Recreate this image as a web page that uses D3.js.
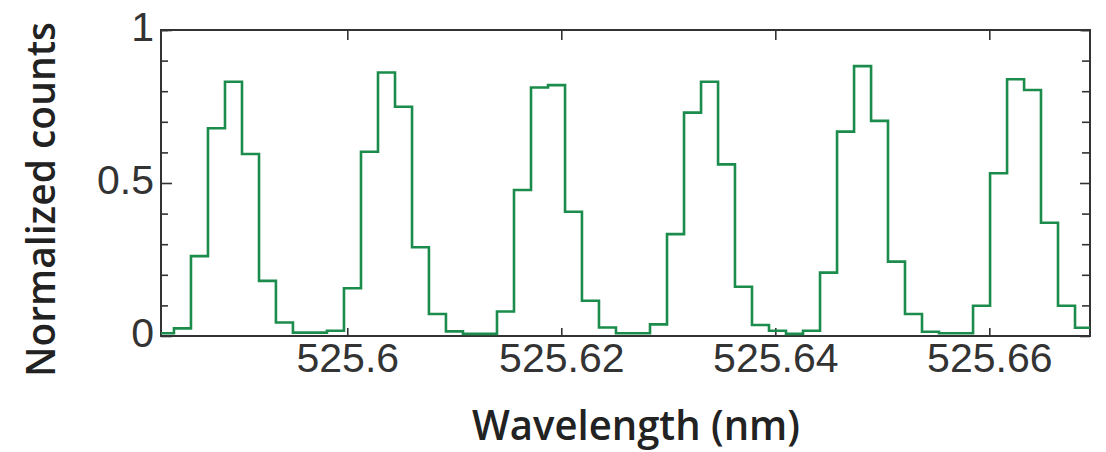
<!DOCTYPE html>
<html>
<head>
<meta charset="utf-8">
<script src="https://cdn.jsdelivr.net/npm/d3@7"></script>
<style>
  html, body { margin: 0; padding: 0; background: #fff; }
  svg { display: block; }
</style>
</head>
<body>
<svg id="chart" width="1106" height="452"></svg>
<script>
// ---- data ----
// left edge of each histogram bin (nm)
const binEdges = [525.58221, 525.58380, 525.58539, 525.58698, 525.58857, 525.59016, 525.59175, 525.59333,
  525.59492, 525.59651, 525.59810, 525.59969, 525.60128, 525.60287, 525.60446, 525.60605, 525.60763,
  525.60922, 525.61081, 525.61240, 525.61399, 525.61558, 525.61717, 525.61876, 525.62035, 525.62193,
  525.62352, 525.62511, 525.62670, 525.62829, 525.62988, 525.63147, 525.63306, 525.63465, 525.63623,
  525.63782, 525.63941, 525.64100, 525.64259, 525.64418, 525.64577, 525.64736, 525.64895, 525.65053,
  525.65212, 525.65371, 525.65530, 525.65689, 525.65848, 525.66007, 525.66166, 525.66325, 525.66483,
  525.66642, 525.66801];
const lastEdge = 525.66960;
// normalized counts per bin
const counts = [0.009, 0.025, 0.261, 0.679, 0.831, 0.595, 0.180, 0.044, 0.011, 0.011, 0.017, 0.156,
  0.602, 0.861, 0.749, 0.290, 0.072, 0.015, 0.007, 0.007, 0.080, 0.477, 0.812, 0.820, 0.406, 0.115,
  0.028, 0.009, 0.009, 0.038, 0.333, 0.730, 0.831, 0.561, 0.161, 0.036, 0.017, 0.007, 0.017, 0.207,
  0.668, 0.882, 0.703, 0.243, 0.072, 0.014, 0.009, 0.009, 0.099, 0.532, 0.839, 0.804, 0.370, 0.099,
  0.027];
const xDomain = [525.58259, 525.66941];
const xTickValues = [525.6, 525.62, 525.64, 525.66];
const xTickLabels = ["525.6", "525.62", "525.64", "525.66"];
const yTickValues = [0, 0.5, 1];
const yTickLabels = ["0", "0.5", "1"];
const yMinorTicks = [0.1, 0.2, 0.3, 0.4, 0.6, 0.7, 0.8, 0.9, 1];
const xTitle = "Wavelength (nm)";
const yTitle = "Normalized counts";

// ---- layout ----
const L = 161, R = 1090, T = 30, B = 336;
const svg = d3.select("#chart");
const x = d3.scaleLinear().domain(xDomain).range([L, R]);
const y = d3.scaleLinear().domain([0, 1]).range([B, T]);
const axisColor = "#333";

svg.append("defs").append("clipPath").attr("id", "clip")
  .append("rect").attr("x", L).attr("y", T - 2).attr("width", R - L).attr("height", B - T + 4);

// frame
svg.append("rect").attr("x", L).attr("y", T).attr("width", R - L).attr("height", B - T)
  .attr("fill", "none").attr("stroke", axisColor).attr("stroke-width", 2);

function styleAxis(g) {
  g.select(".domain").remove();
  g.selectAll(".tick line").attr("stroke", axisColor).attr("stroke-width", 1.6);
}

// bottom axis with labels
const gx = svg.append("g").attr("transform", `translate(0,${B})`)
  .call(d3.axisBottom(x).tickValues(xTickValues).tickSize(-8).tickPadding(7)
    .tickFormat((d, i) => xTickLabels[i]));
styleAxis(gx);
gx.selectAll("text").attr("font-family", "'Liberation Sans', Arial, sans-serif")
  .attr("font-size", 41).attr("fill", axisColor);

// top axis ticks
const gxt = svg.append("g").attr("transform", `translate(0,${T})`)
  .call(d3.axisTop(x).tickValues(xTickValues).tickSize(-10).tickFormat(""));
styleAxis(gxt);

// left axis: minor + major with labels
const gyMinor = svg.append("g").attr("transform", `translate(${L},0)`)
  .call(d3.axisLeft(y).tickValues(yMinorTicks).tickSize(-7).tickFormat(""));
styleAxis(gyMinor);
const gy = svg.append("g").attr("transform", `translate(${L},0)`)
  .call(d3.axisLeft(y).tickValues(yTickValues).tickSize(-11).tickPadding(7)
    .tickFormat((d, i) => yTickLabels[i]));
styleAxis(gy);
gy.selectAll("text").attr("font-family", "'Liberation Sans', Arial, sans-serif")
  .attr("font-size", 41).attr("fill", axisColor).attr("dy", "0.26em");

// right axis ticks
const gyrMinor = svg.append("g").attr("transform", `translate(${R},0)`)
  .call(d3.axisRight(y).tickValues(yMinorTicks).tickSize(-8).tickFormat(""));
styleAxis(gyrMinor);
const gyr = svg.append("g").attr("transform", `translate(${R},0)`)
  .call(d3.axisRight(y).tickValues(yTickValues).tickSize(-10).tickFormat(""));
styleAxis(gyr);

// histogram step line
const pts = binEdges.map((e, i) => [e, counts[i]]);
pts.push([lastEdge, counts[counts.length - 1]]);
const line = d3.line().x(d => x(d[0])).y(d => y(d[1])).curve(d3.curveStepAfter);
svg.append("path").attr("clip-path", "url(#clip)")
  .attr("d", line(pts)).attr("fill", "none")
  .attr("stroke", "#1b8c4c").attr("stroke-width", 2.6).attr("stroke-linejoin", "miter");

// titles
svg.append("text").attr("x", 636).attr("y", 440).attr("text-anchor", "middle")
  .attr("font-family", "'Open Sans', sans-serif").attr("font-weight", 600)
  .attr("font-size", 41).attr("fill", "#222")
  .attr("textLength", 328).attr("lengthAdjust", "spacingAndGlyphs")
  .text(xTitle);
svg.append("text").attr("transform", "translate(55,199.5) rotate(-90)")
  .attr("text-anchor", "middle")
  .attr("font-family", "'Open Sans', sans-serif").attr("font-weight", 600)
  .attr("font-size", 39).attr("fill", "#222")
  .attr("textLength", 355).attr("lengthAdjust", "spacingAndGlyphs")
  .text(yTitle);
</script>
</body>
</html>
